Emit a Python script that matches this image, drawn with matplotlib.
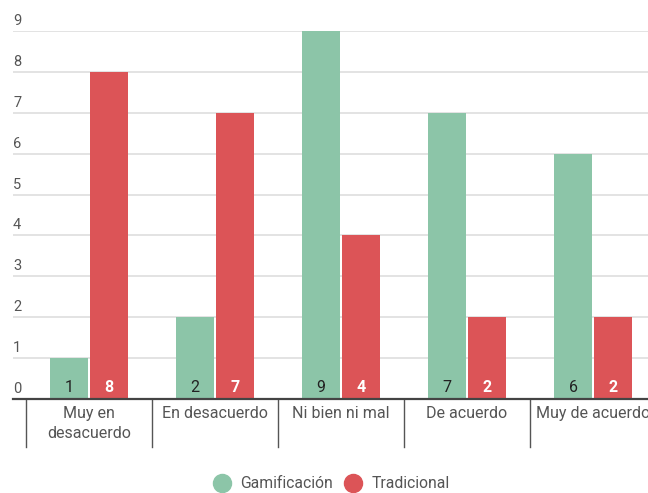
import matplotlib
matplotlib.use("Agg")
import matplotlib.pyplot as plt
from matplotlib.lines import Line2D
from matplotlib.transforms import blended_transform_factory, offset_copy
import numpy as np

categories = ["Muy en\ndesacuerdo", "En desacuerdo", "Ni bien ni mal", "De acuerdo", "Muy de acuerdo"]
gamificacion = [1, 2, 9, 7, 6]
tradicional = [8, 7, 4, 2, 2]
y_ticks = [0, 1, 2, 3, 4, 5, 6, 7, 8, 9]
series_names = ["Gamificación", "Tradicional"]

GREEN = "#8cc5a8"
RED = "#dc5457"
TEXT = "#555555"

plt.rcParams["font.family"] = ["Roboto", "DejaVu Sans"]

W, H = 648, 493
fig = plt.figure(figsize=(W / 100, H / 100), dpi=100)
ax = fig.add_axes([13 / W, (H - 399) / H, (W - 13) / W, (399 - 31) / H])

x = np.arange(len(categories))
bw = 0.30
gap = 0.008
bars_g = ax.bar(x - bw / 2 - gap, gamificacion, width=bw, color=GREEN, zorder=3)
bars_r = ax.bar(x + bw / 2 + gap, tradicional, width=bw, color=RED, zorder=3)

ax.set_xlim(-0.603, 4.437)
ax.set_ylim(0, 9)

# gridlines and y labels drawn above each line
for t in y_ticks:
    if t > 0:
        ax.axhline(t, color="#e3e3e3", linewidth=1.4, zorder=1)
    tr = offset_copy(blended_transform_factory(ax.transAxes, ax.transData), fig=fig, x=0, y=3, units="dots")
    ax.text(0.0, t, str(t), transform=tr, ha="left", va="bottom", fontsize=10.5, color=TEXT)

ax.axhline(0, color="#444444", linewidth=1.6, zorder=4, clip_on=False)

for s in ax.spines.values():
    s.set_visible(False)
ax.set_xticks([])
ax.set_yticks([])

# category separators below the axis
sep_tr = blended_transform_factory(ax.transData, ax.transAxes)
sep_len = 48 / (399 - 31)
for b in np.arange(len(categories) + 1) - 0.5:
    ax.plot([b, b], [0, -sep_len], transform=sep_tr, color="#555555", linewidth=1.0, clip_on=False)

lab_tr = offset_copy(ax.transData, fig=fig, x=0, y=-7, units="dots")
for xi, c in zip(x, categories):
    ax.text(xi, 0, c, transform=lab_tr, ha="center", va="top", fontsize=11.5, color=TEXT, linespacing=1.45)

# value labels at the base of each bar
val_tr = offset_copy(ax.transData, fig=fig, x=0, y=4, units="dots")
for b, v in zip(bars_g, gamificacion):
    ax.text(b.get_x() + b.get_width() / 2, 0, str(v), transform=val_tr, ha="center", va="bottom",
            fontsize=11.5, color="#222222", zorder=5)
for b, v in zip(bars_r, tradicional):
    ax.text(b.get_x() + b.get_width() / 2, 0, str(v), transform=val_tr, ha="center", va="bottom",
            fontsize=11.5, color="white", fontweight="bold", zorder=5)

handles = [Line2D([], [], marker="o", linestyle="", markersize=13, markerfacecolor=GREEN, markeredgecolor=GREEN),
           Line2D([], [], marker="o", linestyle="", markersize=13, markerfacecolor=RED, markeredgecolor=RED)]
fig.legend(handles, series_names, loc="center", bbox_to_anchor=(328 / W, 1 - 484 / H), ncol=2,
           frameon=False, fontsize=11.3, labelcolor=TEXT, handletextpad=0.15, columnspacing=0.3)

fig.savefig("out.png", dpi=100)
